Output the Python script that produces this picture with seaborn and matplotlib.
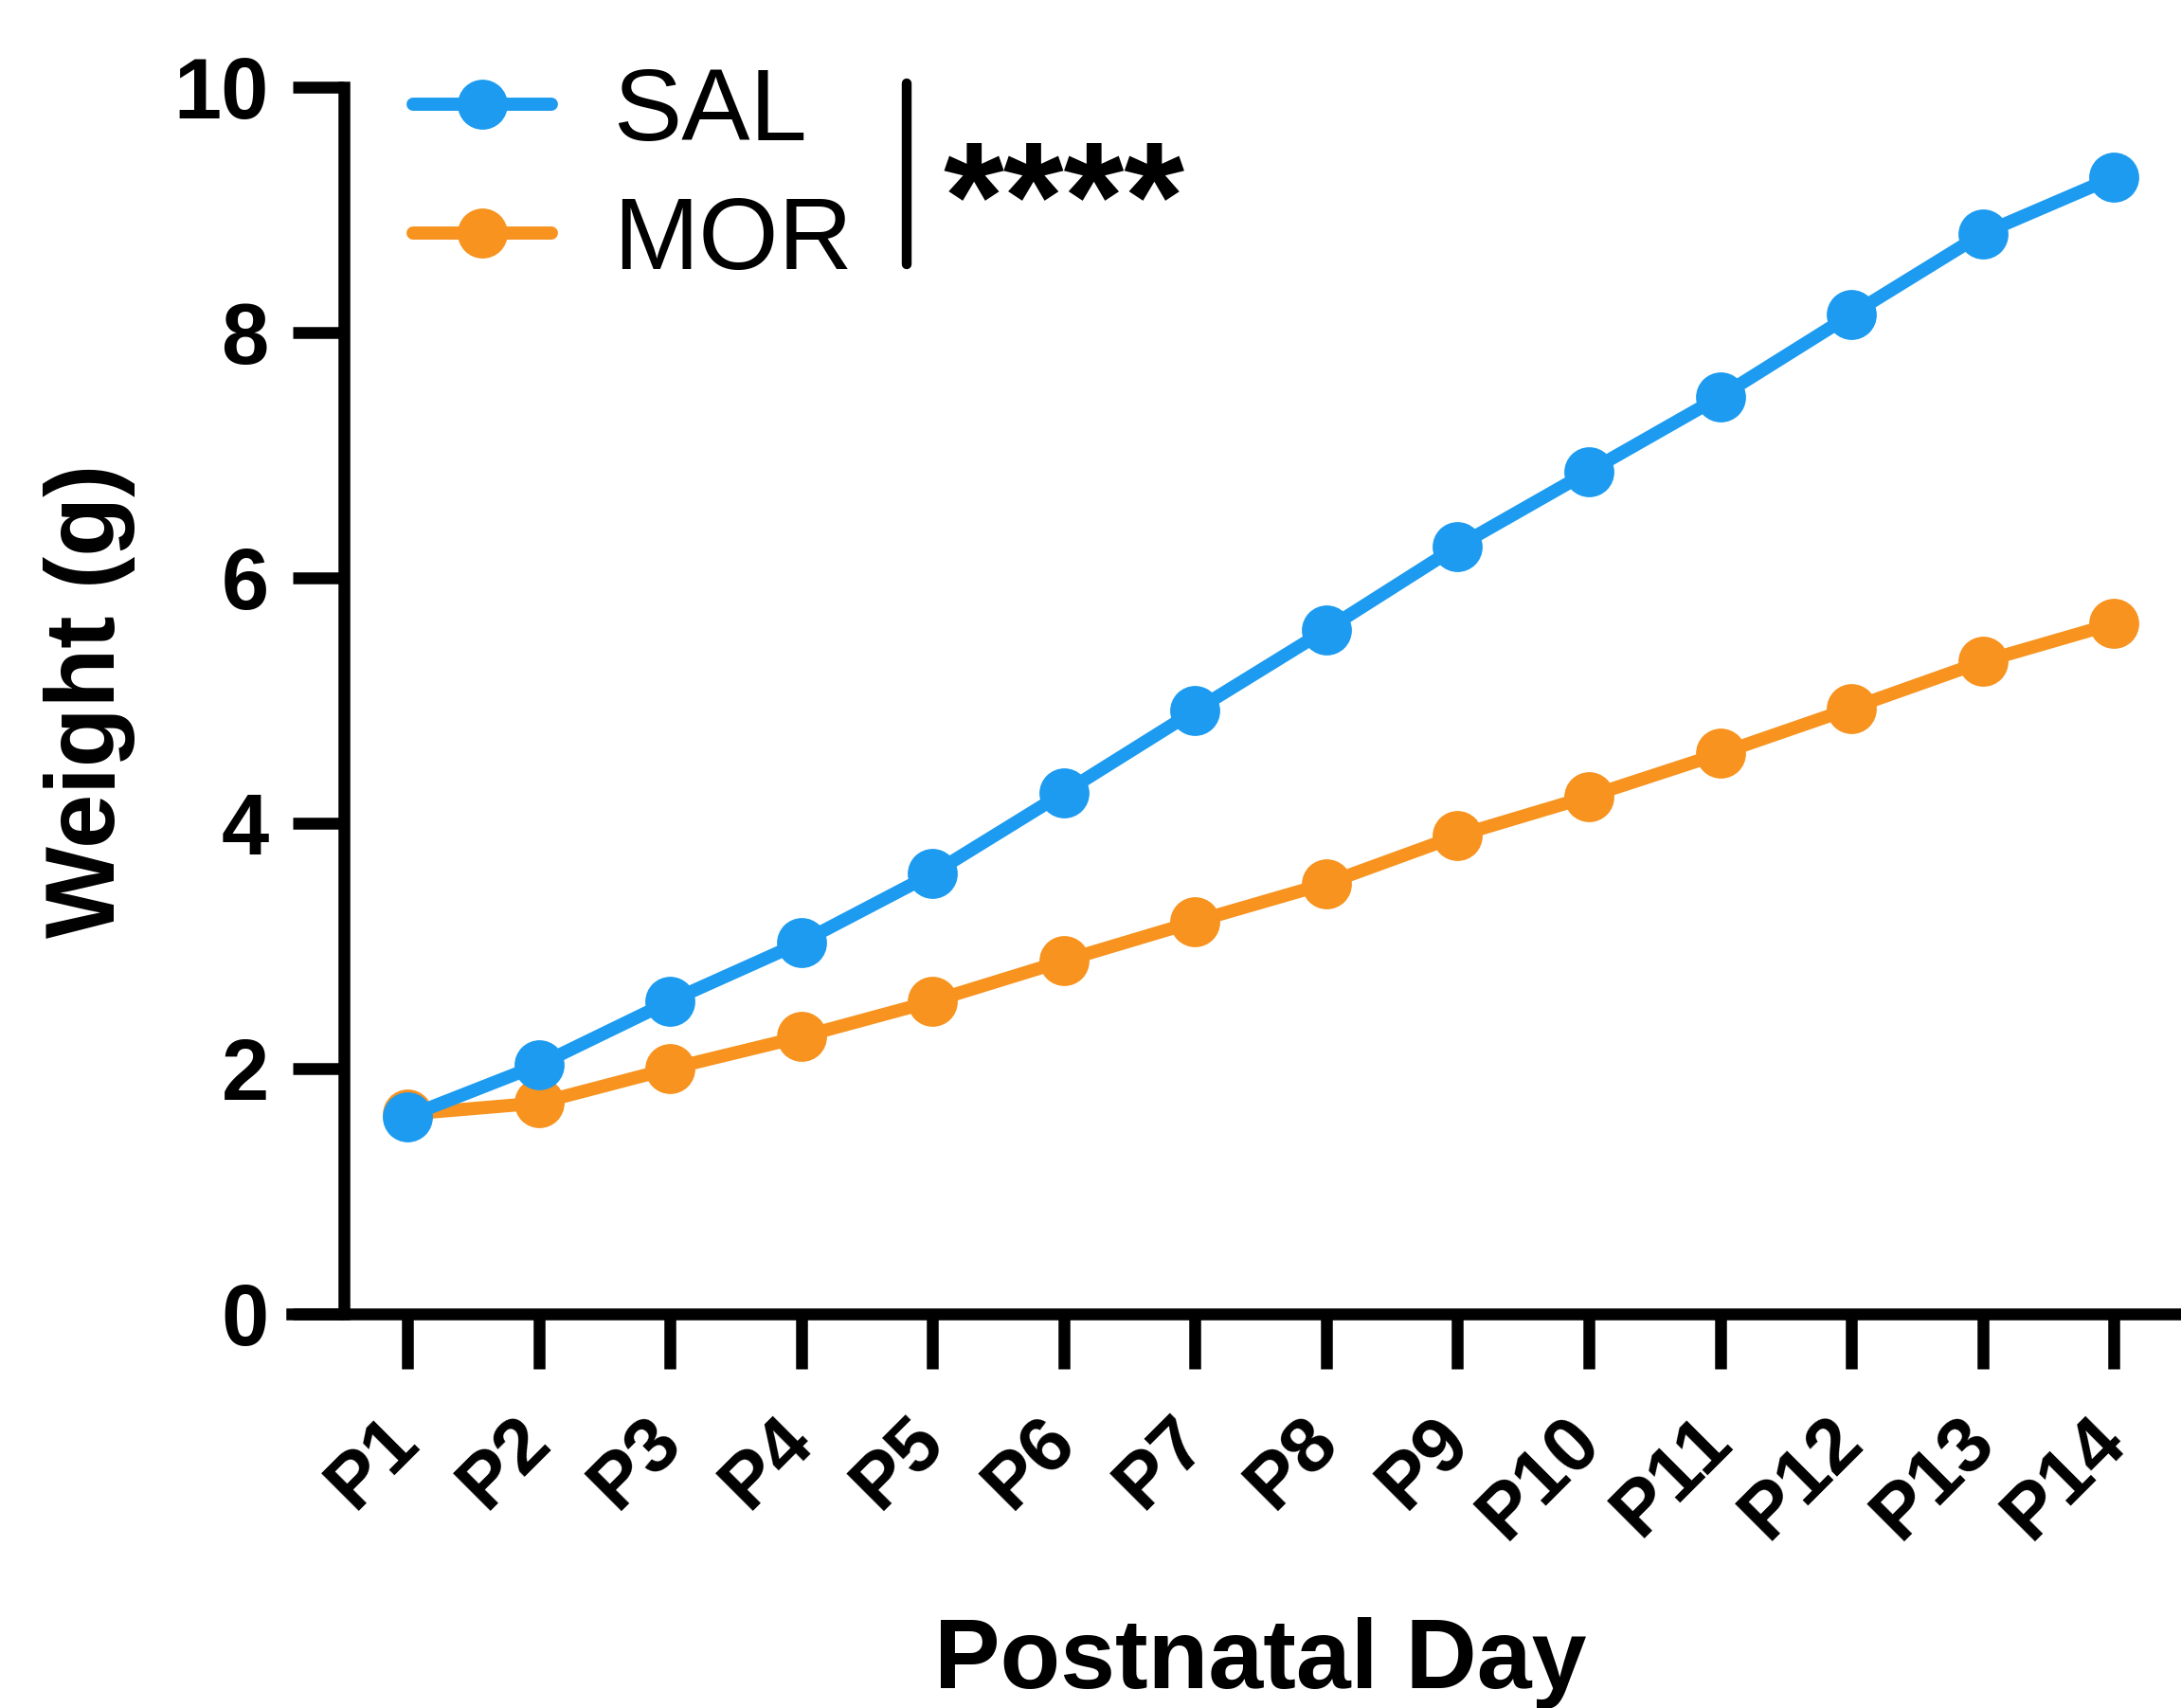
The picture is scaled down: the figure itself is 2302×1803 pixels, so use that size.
import matplotlib
matplotlib.use("Agg")
import matplotlib.pyplot as plt
from matplotlib.lines import Line2D
import seaborn as sns
import pandas as pd

days = ["P1", "P2", "P3", "P4", "P5", "P6", "P7", "P8", "P9", "P10", "P11", "P12", "P13", "P14"]
sal = [1.61, 2.03, 2.55, 3.03, 3.59, 4.25, 4.92, 5.58, 6.26, 6.87, 7.48, 8.15, 8.81, 9.27]
mor = [1.63, 1.72, 2.00, 2.26, 2.55, 2.88, 3.20, 3.51, 3.90, 4.22, 4.57, 4.94, 5.32, 5.63]
groups = ["SAL", "MOR"]
colors = {"SAL": "#1C9BF0", "MOR": "#F7931E"}
yticks = [0, 2, 4, 6, 8, 10]

sns.set_theme(style="ticks")
plt.rcParams["font.family"] = ["Liberation Sans", "DejaVu Sans"]
plt.rcParams.update({
    "text.color": "black", "axes.labelcolor": "black", "axes.edgecolor": "black",
    "xtick.color": "black", "ytick.color": "black",
})

df = pd.DataFrame({
    "day": days * 2,
    "weight": sal + mor,
    "group": ["SAL"] * len(days) + ["MOR"] * len(days),
})

fig = plt.figure(figsize=(23.02, 18.03), dpi=100)
ax = fig.add_axes([0.1338, 0.2307, 0.8662, 0.718])

# draw MOR first so SAL sits on top
for g in ["MOR", "SAL"]:
    sub = df[df["group"] == g]
    sns.lineplot(data=sub, x="day", y="weight", ax=ax, color=colors[g],
                 marker="o", markersize=38, markeredgewidth=0, linewidth=10,
                 label=g, sort=False)
for ln in ax.lines:
    ln.set_linewidth(10)

for s in ["top", "right"]:
    ax.spines[s].set_visible(False)
ax.spines["left"].set_position(("data", -0.483))
ax.spines["left"].set_linewidth(9)
ax.spines["bottom"].set_linewidth(9)

ax.set_xlim(-0.88, 13.51)
ax.set_ylim(0, 10)
ax.set_yticks(yticks)
ax.set_yticklabels([str(v) for v in yticks], fontsize=65, fontweight="bold")
ax.set_xticks(range(len(days)))
ax.set_xticklabels(days, fontsize=59, fontweight="bold", rotation=45,
                   ha="right", va="center", rotation_mode="anchor")

ax.tick_params(axis="y", length=39, width=9, pad=18)
ax.tick_params(axis="x", length=42, width=9, pad=46)

ax.set_xlabel("Postnatal Day", fontsize=75, fontweight="bold")
ax.xaxis.set_label_coords(0.5125, -0.247)
ax.xaxis.label.set_va("top")
ax.set_ylabel("Weight (g)", fontsize=74, fontweight="bold")
ax.yaxis.set_label_coords(-0.083, 0.5)

handles, labels = ax.get_legend_handles_labels()
order = [labels.index(g) for g in groups]
leg = ax.legend([handles[i] for i in order], [labels[i] for i in order],
                loc="upper left", bbox_to_anchor=(0.1894, 0.961),
                bbox_transform=fig.transFigure, frameon=False, fontsize=78,
                handlelength=1.35, handletextpad=0.6, labelspacing=0.33,
                borderpad=0, borderaxespad=0)
for h in leg.legend_handles:
    h.set_linewidth(10)

# significance bracket
fig.add_artist(Line2D([957 / 2302, 957 / 2302], [1 - 88 / 1803, 1 - 279 / 1803],
                      transform=fig.transFigure, color="black", linewidth=7.5,
                      solid_capstyle="round"))
fig.text(995 / 2302, 1 - 263 / 1803, "****", fontsize=118, fontweight="bold",
         ha="left", va="baseline")

fig.savefig("out.png", dpi=100)
